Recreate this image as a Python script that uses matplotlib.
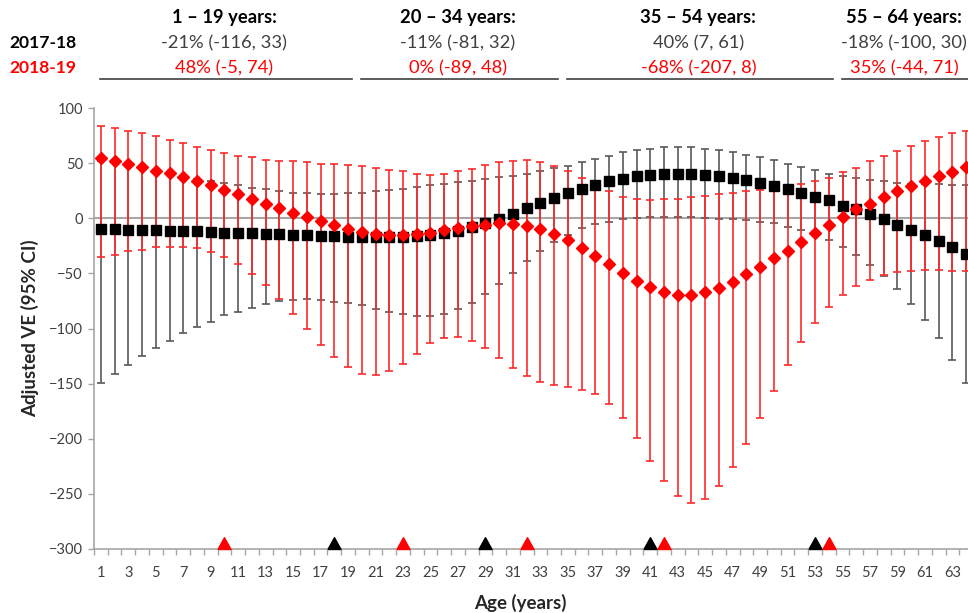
import numpy as np
import matplotlib
matplotlib.use("Agg")
import matplotlib.pyplot as plt
import matplotlib.transforms as mtransforms

# ages 1..64
ages = list(range(1, 65))

# 2017-18 season (black squares)
ve_1718 = [-10, -10, -10.5, -11, -11, -11.5, -12, -12, -12.5, -13, -13.5, -13.5, -14.5, -14.5, -15.5, -15.5,
           -16, -16.5, -17, -17, -17, -17, -17, -16, -15, -13.5, -11.5, -7.9, -3.9, -0.5, 4, 9.5,
           13.8, 18.6, 23, 26.6, 29.9, 33.6, 35.7, 38, 39.3, 40, 40, 40, 39, 38.1, 36.9, 34.5,
           32.4, 29, 26.6, 23, 19.4, 16.3, 11.5, 8.2, 3.9, -0.9, -5.7, -10.3, -14.8, -20.6, -26, -32]
lo_1718 = [-149, -141, -133, -125, -118, -111, -104, -98.6, -93.7, -88, -84.7, -81, -77.4, -75.3, -74.4, -73.2,
           -74.4, -75.6, -76.8, -78.9, -82.5, -84.7, -87.1, -88.3, -88.3, -87.1, -82.5, -76.5, -68.6, -59.6, -49.3, -39,
           -29.6, -21.5, -14.8, -8.8, -5.4, -3, -0.6, 0.5, 1, 1.2, 1.2, 0.8, 0.3, -0.3, -0.6, -1.8,
           -3.6, -4.5, -7.9, -10.3, -14.5, -19.3, -26, -33, -42, -52.3, -64.1, -77.4, -92.6, -108.8, -128.2, -149]
hi_1718 = [51.7, 50.5, 48.1, 46, 43, 40, 37.5, 35.5, 33.6, 32.3, 29.9, 27.8, 26.6, 24.5, 23.3, 23.3,
           22.1, 22.1, 23.3, 23.3, 24.5, 25.7, 26.9, 28.1, 30.2, 31.4, 32.7, 33.9, 36, 37.2, 38.1, 40.3,
           42.9, 45.2, 47.3, 50.7, 53.8, 56.5, 59.7, 62.2, 63.2, 64.4, 64.4, 64.4, 63.2, 62, 59.9, 57.5,
           55.3, 52.9, 49.6, 46.2, 43.6, 40.5, 38.1, 36.9, 34.6, 33.6, 32.4, 31.5, 31.2, 31, 30.5, 30.2]

# 2018-19 season (red diamonds)
ve_1819 = [54.7, 52.3, 49, 46.3, 42.9, 40.8, 37.2, 33.9, 29.9, 25.7, 22.1, 17.5, 13, 9.7, 5.1, 0.9,
           -2.7, -6, -9.4, -12.1, -14.5, -15.4, -15.4, -14.5, -13.3, -10.9, -8.5, -7.3, -6, -4.5, -4.8, -7.3,
           -9.7, -14.2, -20, -26.8, -33.9, -41.7, -49.8, -56.5, -62.6, -67.2, -69.3, -69.3, -67.2, -63.6, -58, -50.8,
           -44.2, -36.3, -29.3, -21.4, -13.3, -6.3, 1, 8, 13.2, 19, 24.8, 29.3, 34, 38.4, 42.2, 46.6]
lo_1819 = [-35.1, -33, -29.6, -28.4, -26, -26, -26, -27.2, -30.8, -35.4, -41.1, -50.5, -60.5, -73.5, -86.8, -100.7,
           -114.6, -126.1, -135.1, -140.9, -142.1, -138.5, -131.8, -122.7, -113.4, -108.8, -107.6, -111, -117.9, -127, -136, -143,
           -148.8, -151.2, -153.3, -155.7, -159.3, -168.4, -181.1, -199.5, -220.1, -238.3, -252.2, -257.9, -254.3, -243.1, -225.9, -205,
           -181.1, -156.9, -133, -112.2, -95, -80.1, -69.5, -61.7, -56.2, -51.4, -49, -48.1, -46.9, -46.9, -48.1, -48.1]
hi_1819 = [84.1, 81.6, 79.2, 77.1, 74.7, 71.4, 68, 64.4, 62, 59, 56.5, 55.3, 52.9, 51.7, 51.7, 50.8,
           49.6, 49.6, 48.4, 47.2, 46, 43.8, 42.6, 40.5, 39.3, 40.5, 42.6, 44.7, 48.4, 50.8, 52, 52.7,
           50.6, 47.3, 43, 36.9, 31.2, 24.6, 19.6, 17.5, 16.8, 17.5, 17.5, 19.4, 20.6, 21.9, 23.1, 24.7,
           26, 28.4, 29.9, 31.4, 33.6, 36.9, 41.7, 46, 51.7, 56.2, 61, 65.6, 70.2, 73.9, 77.1, 79.5]

# triangle markers on the axis
tri_1718 = [18, 29, 41, 53]
tri_1819 = [10, 23, 32, 42, 54]

# age groups for the header
group_names = ["1 \u2013 19 years:", "20 \u2013 34 years:", "35 \u2013 54 years:", "55 \u2013 64 years:"]
group_start = [1, 20, 35, 55]
group_end = [19, 34, 54, 64]
group_1718 = ["-21% (-116, 33)", "-11% (-81, 32)", "40% (7, 61)", "-18% (-100, 30)"]
group_1819 = ["48% (-5, 74)", "0% (-89, 48)", "-68% (-207, 8)", "35% (-44, 71)"]

RED = "#ff0000"
GREY = "#404040"
plt.rcParams["font.family"] = ["Lato", "DejaVu Sans"]


def main():
    fig = plt.figure(figsize=(9.68, 6.13), dpi=100)
    ax = fig.add_axes([94 / 968, 1 - 549 / 613, 879 / 968, 441 / 613])

    x = np.array(ages)
    b = np.array(ve_1718)
    r = np.array(ve_1819)

    ax.axhline(0, color="#a6a6a6", lw=1.5, zorder=1)

    ax.errorbar(x, b, yerr=[b - np.array(lo_1718), np.array(hi_1718) - b], fmt="none",
                ecolor="#595959", elinewidth=1.2, capsize=3.2, capthick=1.2, zorder=2)
    ax.errorbar(x, r, yerr=[r - np.array(lo_1819), np.array(hi_1819) - r], fmt="none",
                ecolor="#ff2a2a", elinewidth=1.2, capsize=3.2, capthick=1.2, zorder=3)
    ax.plot(x, b, "s", color="black", ms=7.3, zorder=4)
    ax.plot(x, r, "D", color=RED, ms=5.8, zorder=5)

    # triangles sitting on the bottom axis
    tri = [(-1, 0), (1, 0), (0, 1.8), (-1, 0)]
    ax.plot(tri_1718, [-300] * len(tri_1718), marker=tri, ls="none", color="black",
            ms=17, clip_on=False, zorder=6)
    ax.plot(tri_1819, [-300] * len(tri_1819), marker=tri, ls="none", color=RED,
            ms=17, clip_on=False, zorder=6)

    ax.set_xlim(0.5, 64.5)
    ax.set_ylim(-300, 100)
    ax.set_yticks(range(-300, 101, 50))
    ax.set_xticks(range(1, 65, 2))
    ax.set_xticks(np.arange(0.5, 65, 1), minor=True)
    ax.tick_params(axis="x", which="major", length=0, pad=12, labelsize=10.5, labelcolor=GREY)
    ax.tick_params(axis="x", which="minor", length=4, color="#a6a6a6", width=1)
    ax.tick_params(axis="y", length=4, color="#a6a6a6", width=1, labelsize=10.5, labelcolor=GREY, pad=4)

    for s in ["top", "right"]:
        ax.spines[s].set_visible(False)
    for s in ["left", "bottom"]:
        ax.spines[s].set_color("#a6a6a6")
        ax.spines[s].set_linewidth(1.2)

    ax.set_xlabel("Age (years)", fontsize=13.5, fontweight="bold", color="#262626", va="center")
    ax.xaxis.set_label_coords(0.485, -0.122)
    ax.set_ylabel("Adjusted VE (95% CI)", fontsize=13.5, fontweight="bold", color="#262626", va="center")
    ax.yaxis.set_label_coords(-0.073, 0.5)

    # header table above the plot
    trans = mtransforms.blended_transform_factory(ax.transData, fig.transFigure)
    fig.text(76 / 968, 1 - 43 / 613, "2017-18", ha="right", va="center",
             fontsize=12.6, fontweight="bold", color="black")
    fig.text(76 / 968, 1 - 68 / 613, "2018-19", ha="right", va="center",
             fontsize=12.6, fontweight="bold", color=RED)
    for name, s, e, t1, t2 in zip(group_names, group_start, group_end, group_1718, group_1819):
        mid = (s + e) / 2
        ax.text(mid, 1 - 18 / 613, name, transform=trans, ha="center", va="center",
                fontsize=13.2, fontweight="bold", color="black", clip_on=False)
        ax.text(mid, 1 - 43 / 613, t1, transform=trans, ha="center", va="center",
                fontsize=13.2, color=GREY, clip_on=False)
        ax.text(mid, 1 - 68 / 613, t2, transform=trans, ha="center", va="center",
                fontsize=13.2, color=RED, clip_on=False)
        ax.plot([s - 0.05, e + 0.3], [1 - 79 / 613] * 2, transform=trans, color=GREY,
                lw=1.2, clip_on=False)

    fig.savefig("out.png", dpi=100)


if __name__ == "__main__":
    main()
